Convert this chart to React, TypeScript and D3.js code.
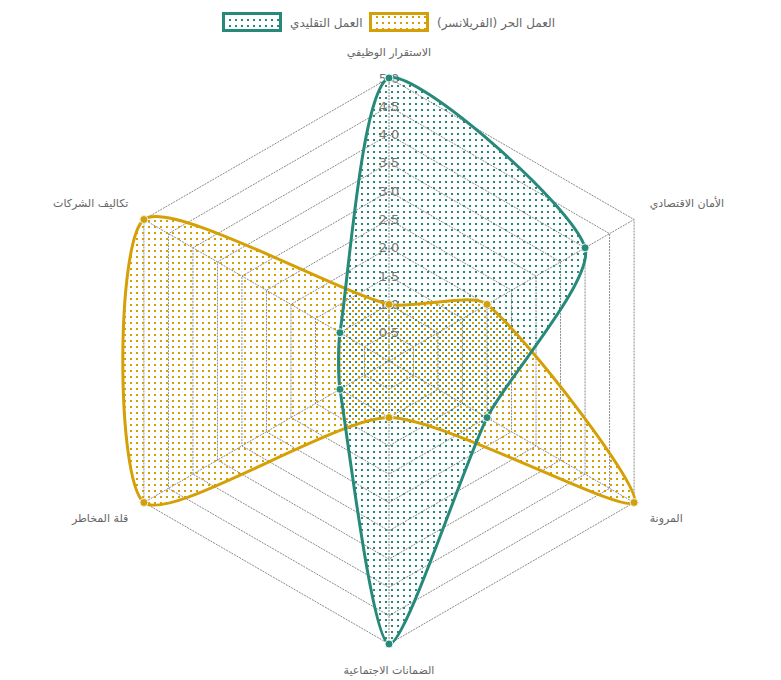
import React from "react";
import * as d3 from "d3";

const labels = [
  "الاستقرار الوظيفي",
  "الأمان الاقتصادي",
  "المرونة",
  "الضمانات الاجتماعية",
  "قلة المخاطر",
  "تكاليف الشركات",
];
const seriesNames = ["العمل التقليدي", "العمل الحر (الفريلانسر)"];
const traditional = [5, 4, 2, 5, 1, 1];
const freelance = [1, 2, 5, 1, 5, 5];
const ticks = [0.5, 1, 1.5, 2, 2.5, 3, 3.5, 4, 4.5, 5];

const W = 781;
const H = 680;
const CX = 389;
const CY = 361;
const R = 283;
const TEAL = "#26897a";
const GOLD = "#d4a005";
const TENSION = 0.22;

type P = { x: number; y: number };

function ctrl(prev: P, cur: P, next: P, t: number) {
  const d01 = Math.hypot(cur.x - prev.x, cur.y - prev.y);
  const d12 = Math.hypot(next.x - cur.x, next.y - cur.y);
  let s01 = d01 / (d01 + d12);
  let s12 = d12 / (d01 + d12);
  if (!isFinite(s01)) s01 = 0;
  if (!isFinite(s12)) s12 = 0;
  const fa = t * s01;
  const fb = t * s12;
  return {
    prev: { x: cur.x - fa * (next.x - prev.x), y: cur.y - fa * (next.y - prev.y) },
    next: { x: cur.x + fb * (next.x - prev.x), y: cur.y + fb * (next.y - prev.y) },
  };
}

export default function App() {
  const r = d3.scaleLinear().domain([0, 5]).range([0, R]);
  const n = labels.length;
  const ang = (i: number) => -Math.PI / 2 + (i * 2 * Math.PI) / n;
  const pt = (i: number, v: number): P => ({
    x: CX + r(v) * Math.cos(ang(i)),
    y: CY + r(v) * Math.sin(ang(i)),
  });

  const areaPath = (vals: number[]) => {
    const pts = vals.map((v, i) => pt(i, v));
    const cps = pts.map((p, i) => ctrl(pts[(i - 1 + n) % n], p, pts[(i + 1) % n], TENSION));
    const path = d3.path();
    path.moveTo(pts[0].x, pts[0].y);
    for (let i = 0; i < n; i++) {
      const j = (i + 1) % n;
      path.bezierCurveTo(cps[i].next.x, cps[i].next.y, cps[j].prev.x, cps[j].prev.y, pts[j].x, pts[j].y);
    }
    path.closePath();
    return { d: path.toString(), pts };
  };

  const ringPath = (v: number) => {
    const line = d3.line<number>()
      .x((i) => pt(i, v).x)
      .y((i) => pt(i, v).y)
      .curve(d3.curveLinearClosed);
    return line(d3.range(n)) as string;
  };

  const datasets = [
    { name: seriesNames[1], vals: freelance, color: GOLD, pat: "patGold" },
    { name: seriesNames[0], vals: traditional, color: TEAL, pat: "patTeal" },
  ];

  const labelPos = labels.map((l, i) => {
    const p = pt(i, 5);
    const a = ang(i);
    const cos = Math.cos(a);
    const sin = Math.sin(a);
    let anchor = "middle";
    if (cos > 0.1) anchor = "start";
    else if (cos < -0.1) anchor = "end";
    const off = 18;
    let x = p.x + cos * off;
    let y = p.y + sin * off;
    if (Math.abs(cos) < 0.1) {
      y = sin < 0 ? p.y - 26 : p.y + 26;
    } else {
      y = p.y + (sin < 0 ? -16 : 16);
    }
    return { l, x, y, anchor };
  });

  const legend = [
    { name: seriesNames[0], color: TEAL, pat: "patTeal", x: 222, tx: 290 },
    { name: seriesNames[1], color: GOLD, pat: "patGold", x: 369, tx: 437 },
  ];

  return (
    <svg width={W} height={H} style={{ display: "block", position: "absolute", left: 0, top: 0 }}
      fontFamily="'DejaVu Sans', sans-serif">
      <defs>
        <pattern id="patTeal" patternUnits="userSpaceOnUse" width={6} height={6}>
          <rect x={1} y={1} width={2} height={2} fill={TEAL} />
        </pattern>
        <pattern id="patGold" patternUnits="userSpaceOnUse" width={6} height={6}>
          <rect x={4} y={4} width={2} height={2} fill={GOLD} />
        </pattern>
      </defs>
      <rect width={W} height={H} fill="#ffffff" />
      {/* legend */}
      {legend.map((lg) => (
        <g key={lg.name}>
          <rect x={lg.x + 1.5} y={13.5} width={57} height={17} fill={`url(#${lg.pat})`} stroke={lg.color} strokeWidth={3} />
          <text x={lg.tx} y={23} dy="0.35em" fontSize={12} fill="#666">{lg.name}</text>
        </g>
      ))}
      {/* grid */}
      <g fill="none" stroke="#8a8a8a" strokeWidth={1} strokeDasharray="2,1">
        {ticks.map((t) => (
          <path key={t} d={ringPath(t)} />
        ))}
        {labels.map((l, i) => {
          const p = pt(i, 5);
          return <line key={l} x1={CX} y1={CY} x2={p.x} y2={p.y} />;
        })}
      </g>
      {/* datasets */}
      {datasets.map((ds) => {
        const { d } = areaPath(ds.vals);
        return (
          <g key={ds.name}>
            <path d={d} fill={`url(#${ds.pat})`} stroke="none" />
          </g>
        );
      })}
      {/* tick labels */}
      <g fontSize={13} fill="#777" textAnchor="middle">
        {ticks.map((t) => (
          <text key={t} x={CX} y={CY - r(t)} dy="0.35em">{t.toFixed(1)}</text>
        ))}
      </g>
      {datasets.map((ds) => {
        const { d, pts } = areaPath(ds.vals);
        return (
          <g key={ds.name + "l"}>
            <path d={d} fill="none" stroke={ds.color} strokeWidth={3} />
            {pts.map((p, i) => (
              <circle key={i} cx={p.x} cy={p.y} r={4} fill={ds.color} stroke="#e8f4f0" strokeWidth={1} />
            ))}
          </g>
        );
      })}
      {/* point labels */}
      <g fontSize={11} fill="#666">
        {labelPos.map((lp) => (
          <text key={lp.l} x={lp.x} y={lp.y} dy="0.35em" textAnchor={lp.anchor}>{lp.l}</text>
        ))}
      </g>
    </svg>
  );
}
